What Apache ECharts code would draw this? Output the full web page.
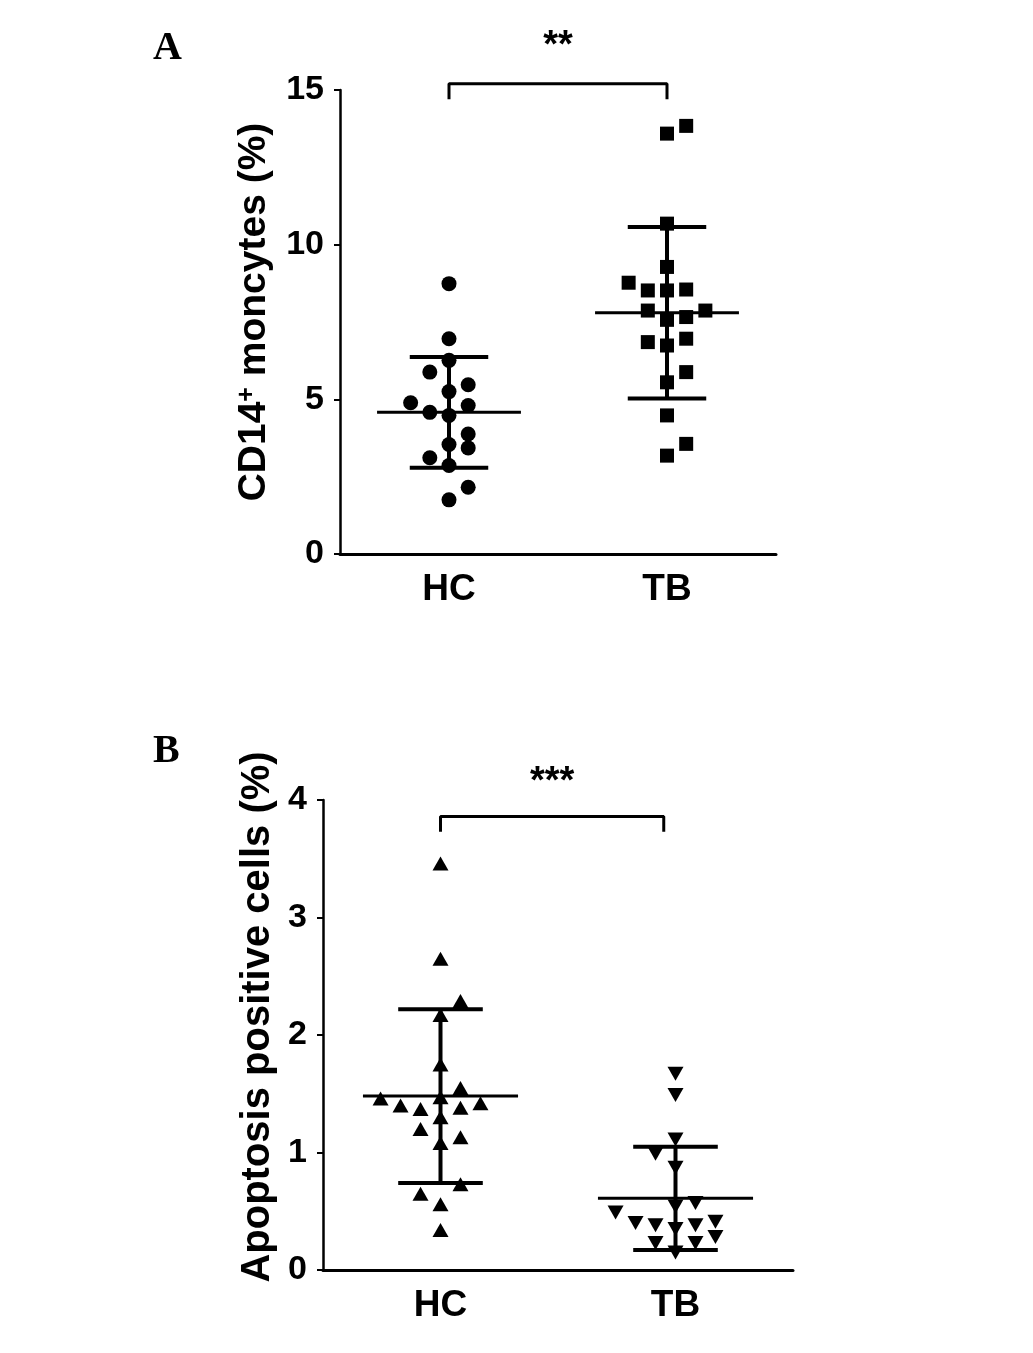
<!DOCTYPE html>
<html>
<head>
<meta charset="utf-8">
<script src="https://cdn.jsdelivr.net/npm/echarts@6/dist/echarts.min.js"></script>
<style>
html,body{margin:0;padding:0;background:#fff;}
#chart{width:1033px;height:1353px;}
</style>
</head>
<body>
<div id="chart"></div>
<script>
// ---------- DATA ----------
var categories = ['HC', 'TB'];

// Panel A: CD14+ monocytes (%)
var hcA = [8.74, 6.96, 6.26, 5.88, 5.47, 5.25, 4.89, 4.80, 4.58, 4.48, 3.88, 3.54, 3.43, 3.11, 2.86, 2.16, 1.75];
var hcAJitter = [0, 0, 0, -1, 1, 0, -2, 1, -1, 0, 1, 0, 1, -1, 0, 1, 0];
var tbA = [13.59, 13.84, 10.68, 9.28, 8.77, 8.52, 8.52, 8.55, 7.87, 7.87, 7.57, 7.66, 6.85, 6.96, 6.74, 5.88, 5.55, 4.48, 3.56, 3.18];
var tbAJitter = [0, 1, 0, 0, -2, -1, 0, 1, -1, 2, 0, 1, -1, 1, 0, 1, 0, 0, 1, 0];
var meanA = [4.58, 7.80];
var sdA = [1.79, 2.77];
var yTicksA = [0, 5, 10, 15];
var sigA = '**';

// Panel B: Apoptosis positive cells (%)
var hcB = [3.46, 2.65, 2.29, 2.17, 1.75, 1.55, 1.46, 1.47, 1.40, 1.37, 1.38, 1.42, 1.30, 1.20, 1.13, 1.08, 0.73, 0.65, 0.56, 0.34];
var hcBJitter = [0, 0, 1, 0, 0, 1, -3, 0, -2, -1, 1, 2, 0, -1, 1, 0, 1, -1, 0, 0];
var tbB = [1.67, 1.49, 1.11, 0.99, 0.87, 0.57, 0.54, 0.49, 0.40, 0.38, 0.41, 0.38, 0.35, 0.28, 0.23, 0.23, 0.15];
var tbBJitter = [0, 0, 0, -1, 0, 1, 0, -3, -2, -1, 2, 1, 0, 2, -1, 1, 0];
var meanB = [1.48, 0.61];
var sdB = [0.74, 0.44];
var yTicksB = [0, 1, 2, 3, 4];
var sigB = '***';

// ---------- LAYOUT ----------
var FONT = '"Liberation Sans", Arial, Helvetica, sans-serif';
var SERIF = '"Liberation Serif", "Times New Roman", serif';
var STEP_A = 0.088, STEP_B = 0.085;

function pts(vals, jit, idx, step) {
  return vals.map(function (v, i) { return [idx + jit[i] * step, v]; });
}

function errRender(params, api) {
  var x = api.value(0), m = api.value(1), s = api.value(2);
  var mh = 0.33, sh = 0.18;
  function seg(a, b, w) {
    var p1 = api.coord(a), p2 = api.coord(b);
    return { type: 'line', shape: { x1: p1[0], y1: p1[1], x2: p2[0], y2: p2[1] },
      style: { stroke: '#000', lineWidth: w } };
  }
  return { type: 'group', children: [
    seg([x - mh, m], [x + mh, m], 3),
    seg([x - sh, m + s], [x + sh, m + s], 4),
    seg([x - sh, m - s], [x + sh, m - s], 4),
    seg([x, m - s], [x, m + s], 4)
  ]};
}

function catAxis(grid) {
  return {
    type: 'category', gridIndex: grid, data: categories, boundaryGap: true,
    axisLine: { onZero: false, lineStyle: { color: '#000', width: 3 } },
    axisTick: { alignWithLabel: true, length: 6, lineStyle: { color: '#000', width: 2 } },
    axisLabel: { color: '#000', fontFamily: FONT, fontWeight: 'bold', fontSize: 37, margin: 17 },
    splitLine: { show: false }
  };
}
function hidX(grid) {
  return { type: 'value', gridIndex: grid, min: -0.5, max: 1.5, show: false, splitLine: { show: false } };
}
function valAxis(grid, ticks, name, nameGap, shiftUp, nameSize, rich) {
  return {
    type: 'value', gridIndex: grid, min: ticks[0], max: ticks[ticks.length - 1],
    interval: ticks[1] - ticks[0],
    name: name, nameLocation: 'middle', nameGap: nameGap,
    nameTextStyle: { color: '#000', fontFamily: FONT, fontWeight: 'bold', fontSize: nameSize,
      padding: [0, 0, 0, shiftUp * 2], rich: rich || {} },
    axisLine: { show: true, onZero: false, lineStyle: { color: '#000', width: 2.5 } },
    axisTick: { show: true, length: 6, lineStyle: { color: '#000', width: 2 } },
    axisLabel: { color: '#000', fontFamily: FONT, fontWeight: 'bold', fontSize: 34, margin: 16 },
    splitLine: { show: false }
  };
}
function scatter(xi, yi, data, symbol, size, rotate) {
  return { type: 'scatter', xAxisIndex: xi, yAxisIndex: yi, data: data, symbol: symbol,
    symbolSize: size, symbolRotate: rotate || 0, itemStyle: { color: '#000', opacity: 1 },
    silent: true, z: 3 };
}
function bracket(xi, yi, from, to, y, drop) {
  return { type: 'line', xAxisIndex: xi, yAxisIndex: yi, clip: false, silent: true,
    data: [[from, y - drop], [from, y], [to, y], [to, y - drop]],
    symbol: 'none', lineStyle: { color: '#000', width: 3 }, z: 4 };
}
function stars(xi, yi, x, y, text) {
  return { type: 'scatter', xAxisIndex: xi, yAxisIndex: yi, clip: false, silent: true,
    data: [[x, y]], symbolSize: 1, itemStyle: { color: 'rgba(0,0,0,0)' },
    label: { show: true, position: 'inside', formatter: text, color: '#000',
      fontFamily: FONT, fontWeight: 'bold', fontSize: 38, opacity: 1 } };
}

var chart = echarts.init(document.getElementById('chart'), null, { renderer: 'canvas' });
chart.setOption({
  animation: false,
  backgroundColor: '#fff',
  title: [
    { text: 'A', left: 148, top: 24, textStyle: { fontFamily: SERIF, fontWeight: 'bold', fontSize: 40, color: '#000' } },
    { text: 'B', left: 148, top: 727, textStyle: { fontFamily: SERIF, fontWeight: 'bold', fontSize: 40, color: '#000' } }
  ],
  grid: [
    { left: 340, top: 90, width: 436, height: 464 },
    { left: 323, top: 800, width: 470, height: 470 }
  ],
  xAxis: [catAxis(0), hidX(0), catAxis(1), hidX(1)],
  yAxis: [
    valAxis(0, yTicksA, 'CD14{sup|+} moncytes (%)', 66, 10, 39,
      { sup: { fontSize: 25, fontWeight: 'bold', fontFamily: FONT, color: '#000', verticalAlign: 'top' } }),
    valAxis(1, yTicksB, 'Apoptosis positive cells (%)', 45, 18, 40)
  ],
  series: [
    scatter(1, 0, pts(hcA, hcAJitter, 0, STEP_A), 'circle', 15),
    scatter(1, 0, pts(tbA, tbAJitter, 1, STEP_A), 'rect', 14),
    { type: 'custom', xAxisIndex: 1, yAxisIndex: 0, renderItem: errRender, silent: true, z: 5,
      data: meanA.map(function (m, i) { return [i, m, sdA[i]]; }) },
    bracket(1, 0, 0, 1, 15.2, 0.5),
    stars(1, 0, 0.5, 16.4, sigA),

    scatter(3, 1, pts(hcB, hcBJitter, 0, STEP_B), 'triangle', [16, 14]),
    scatter(3, 1, pts(tbB, tbBJitter, 1, STEP_B), 'triangle', [16, 14], 180),
    { type: 'custom', xAxisIndex: 3, yAxisIndex: 1, renderItem: errRender, silent: true, z: 5,
      data: meanB.map(function (m, i) { return [i, m, sdB[i]]; }) },
    bracket(3, 1, 0, 0.95, 3.86, 0.13),
    stars(3, 1, 0.475, 4.15, sigB)
  ]
});
</script>
</body>
</html>
